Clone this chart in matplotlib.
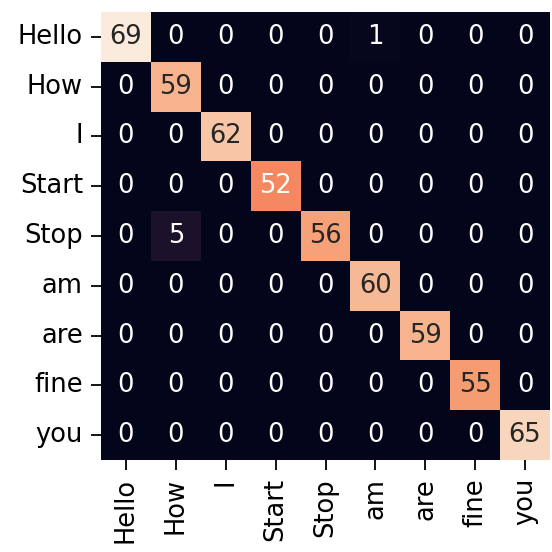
import numpy as np
import matplotlib
matplotlib.use("Agg")
import matplotlib.pyplot as plt
import seaborn as sns

labels = ["Hello", "How", "I", "Start", "Stop", "am", "are", "fine", "you"]
diag = [69, 59, 62, 52, 56, 60, 59, 55, 65]
# off-diagonal counts: (row, col, value)
off_diag = [(0, 5, 1), (4, 1, 5)]

cm = np.diag(diag)
for r, c, v in off_diag:
    cm[r, c] = v

fig = plt.figure(figsize=(5.52, 5.52), dpi=100)
ax = fig.add_axes([101 / 552, 1 - 460 / 552, 449 / 552, 448 / 552])
sns.heatmap(cm, annot=True, fmt="d", cbar=False, ax=ax,
            xticklabels=labels, yticklabels=labels,
            annot_kws={"fontsize": 18.5})
ax.tick_params(axis="both", labelsize=18.5, length=7, width=1.3, pad=6)
plt.setp(ax.get_xticklabels(), rotation=90)
plt.setp(ax.get_yticklabels(), rotation=0)

fig.savefig("out.png", dpi=100)
